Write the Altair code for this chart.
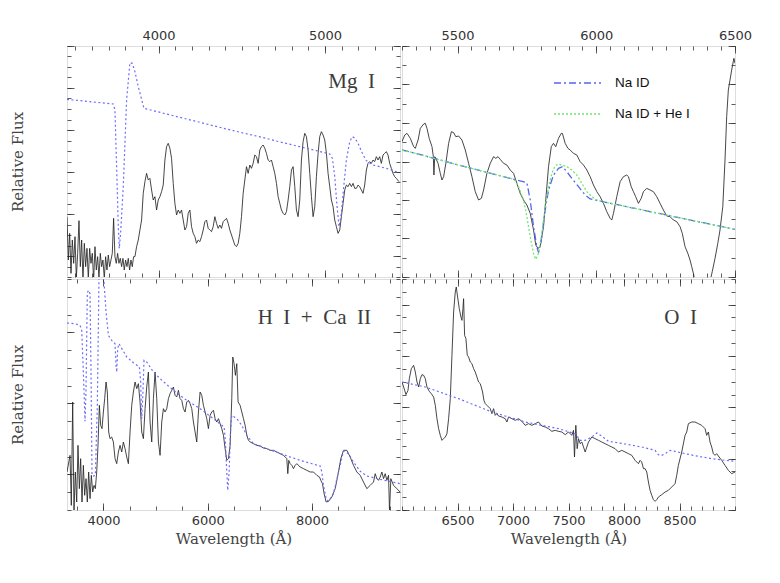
import altair as alt
import pandas as pd

# ---------------- data (wavelength in Angstrom, relative flux, arbitrary units) ----------------
TL_SPECTRUM = [
    (3450, 1.81), (3458, 0.51), (3466, 1.31), (3474, 0.11), (3482, 1.11), (3490, 0.41), (3498, 1.21),
    (3506, -0.05), (3514, 0.71), (3522, 1.69), (3530, 0.31), (3538, 1.11), (3546, -0.09), (3554, 1.01),
    (3562, 0.31), (3570, 0.86), (3578, -0.05), (3586, 0.86), (3594, 0.41), (3602, 0.71), (3610, -0.09),
    (3618, 0.91), (3626, 0.21), (3634, 0.61), (3642, -0.02), (3650, 0.71), (3658, 0.31), (3666, 0.51),
    (3674, -0.04), (3682, 0.61), (3690, 0.21), (3698, 0.66), (3706, 0.31), (3714, 0.51), (3722, 0.71),
    (3730, 1.76), (3738, 0.61), (3746, 0.41), (3754, 0.71), (3762, 0.41), (3770, 0.56), (3778, 0.31),
    (3786, 0.56), (3794, 0.21), (3802, 0.51), (3810, 0.31), (3818, 0.56), (3826, 0.21), (3834, 0.51),
    (3842, 0.31), (3850, 0.61), (3858, 0.61), (3868, 0.91), (3878, 1.11), (3888, 1.41), (3898, 1.71),
    (3908, 2.51), (3918, 2.86), (3928, 3.11), (3938, 2.91), (3948, 2.96), (3958, 2.61), (3968, 2.31),
    (3978, 2.41), (3988, 2.01), (3998, 2.31), (4008, 2.41), (4018, 2.56), (4028, 2.76), (4038, 3.51),
    (4048, 3.91), (4058, 4.01), (4068, 3.86), (4078, 3.56), (4088, 2.81), (4098, 2.21), (4108, 1.86),
    (4118, 2.01), (4128, 1.91), (4138, 2.01), (4148, 1.71), (4158, 1.41), (4168, 1.51), (4178, 1.91),
    (4188, 2.01), (4198, 1.51), (4208, 1.31), (4218, 1.21), (4228, 1.01), (4238, 1.11), (4248, 1.06),
    (4258, 1.21), (4268, 1.41), (4278, 1.66), (4288, 1.71), (4298, 1.46), (4308, 1.41), (4318, 1.36),
    (4328, 1.51), (4338, 1.81), (4348, 1.61), (4358, 1.46), (4368, 1.56), (4378, 1.46), (4388, 1.66),
    (4398, 1.71), (4408, 1.76), (4418, 1.61), (4428, 1.41), (4438, 1.26), (4448, 1.11), (4458, 0.96),
    (4468, 0.91), (4478, 1.01), (4488, 1.31), (4498, 1.81), (4508, 2.51), (4518, 2.91), (4528, 3.31),
    (4538, 3.11), (4548, 3.36), (4558, 3.26), (4568, 3.41), (4578, 3.66), (4588, 3.61), (4598, 3.41),
    (4608, 3.81), (4618, 3.91), (4628, 3.96), (4638, 3.86), (4648, 3.71), (4658, 3.51), (4668, 3.46),
    (4678, 3.51), (4688, 3.31), (4698, 3.11), (4708, 2.81), (4718, 2.41), (4728, 2.21), (4738, 2.01),
    (4748, 1.91), (4758, 1.86), (4768, 1.96), (4778, 2.31), (4788, 2.71), (4798, 3.21), (4808, 3.31),
    (4818, 2.71), (4828, 2.01), (4838, 1.81), (4848, 2.31), (4858, 3.51), (4868, 4.06), (4878, 4.31),
    (4888, 4.21), (4898, 3.81), (4908, 3.11), (4918, 2.41), (4928, 1.81), (4938, 2.11), (4948, 3.01),
    (4958, 3.71), (4968, 4.21), (4978, 4.36), (4988, 4.26), (4998, 4.11), (5008, 3.71), (5018, 3.11),
    (5028, 2.71), (5038, 2.31), (5048, 2.11), (5058, 1.71), (5068, 1.51), (5078, 1.31), (5088, 1.41),
    (5098, 1.81), (5108, 2.21), (5118, 2.61), (5128, 2.76), (5138, 2.71), (5148, 2.81), (5158, 2.71),
    (5168, 2.81), (5178, 2.66), (5188, 2.66), (5198, 2.76), (5208, 2.71), (5218, 2.61), (5228, 2.51),
    (5238, 2.76), (5248, 3.21), (5258, 3.41), (5268, 3.46), (5278, 3.41), (5288, 3.51), (5298, 3.46),
    (5308, 3.61), (5318, 3.51), (5328, 3.61), (5338, 3.41), (5348, 3.66), (5358, 3.71), (5368, 3.76),
    (5378, 3.66), (5388, 3.41), (5398, 3.26), (5408, 3.11), (5418, 3.01), (5428, 2.96), (5444, 2.86),
]
TL_MODEL = [
    (3450, 5.33), (3728, 5.19), (3738, 5.01), (3748, 3.31), (3758, 1.51), (3764, 0.86), (3772, 1.31),
    (3788, 2.71), (3808, 5.31), (3828, 6.43), (3842, 6.41), (3858, 6.16), (3878, 5.71), (3912, 5.06),
    (4048, 4.89), (4248, 4.64), (4448, 4.39), (4588, 4.23), (4748, 4.03), (4848, 3.91), (4948, 3.79),
    (5028, 3.69), (5044, 3.56), (5058, 3.01), (5072, 2.11), (5084, 1.51), (5098, 1.91), (5112, 2.71),
    (5128, 3.51), (5148, 4.06), (5164, 4.21), (5180, 4.16), (5198, 4.01), (5224, 3.71), (5248, 3.49),
    (5288, 3.36), (5368, 3.26), (5444, 3.13),
]

TR_SPECTRUM = [
    (5300, 4.06), (5310, 4.26), (5318, 4.31), (5330, 4.16), (5342, 3.91), (5348, 3.86), (5358, 4.11),
    (5366, 4.46), (5378, 4.59), (5384, 4.61), (5390, 4.46), (5398, 4.16), (5408, 3.91), (5413, 3.61),
    (5415, 3.06), (5418, 3.61), (5422, 3.56), (5430, 3.41), (5438, 3.11), (5444, 2.91), (5450, 3.01),
    (5458, 3.41), (5468, 4.01), (5478, 4.36), (5486, 4.33), (5494, 4.21), (5504, 4.23), (5516, 4.11),
    (5528, 3.81), (5540, 3.41), (5552, 3.01), (5564, 2.56), (5576, 2.31), (5586, 2.36), (5594, 2.61),
    (5606, 3.11), (5618, 3.41), (5630, 3.61), (5638, 3.56), (5646, 3.61), (5654, 3.53), (5666, 3.41),
    (5678, 3.36), (5690, 3.21), (5702, 3.11), (5714, 2.81), (5726, 2.51), (5738, 2.31), (5750, 2.16),
    (5762, 1.91), (5774, 1.41), (5782, 0.96), (5790, 0.86), (5798, 0.91), (5810, 1.51), (5818, 2.31),
    (5828, 3.31), (5838, 3.91), (5846, 4.01), (5854, 3.91), (5864, 4.16), (5874, 4.31), (5878, 4.31),
    (5888, 4.01), (5898, 3.86), (5906, 3.81), (5918, 3.71), (5930, 3.66), (5942, 3.46), (5954, 3.36),
    (5966, 3.21), (5978, 3.01), (5990, 2.76), (6002, 2.56), (6014, 2.41), (6026, 2.21), (6038, 1.96),
    (6050, 1.76), (6056, 1.71), (6062, 1.91), (6074, 2.41), (6086, 2.86), (6098, 3.01), (6110, 3.06),
    (6116, 3.01), (6126, 2.71), (6134, 2.56), (6142, 2.41), (6152, 2.21), (6162, 2.36), (6170, 2.56),
    (6182, 2.66), (6194, 2.61), (6206, 2.56), (6218, 2.41), (6230, 2.21), (6242, 2.01), (6254, 1.83),
    (6266, 1.81), (6278, 1.71), (6290, 1.66), (6302, 1.51), (6310, 1.31), (6320, 0.91), (6330, 0.71),
    (6338, 0.51), (6344, 0.31), (6350, 0.11), (6356, -0.14), (6386, -0.69), (6410, -0.14), (6418, 0.16),
    (6428, 0.56), (6438, 1.01), (6446, 1.41), (6456, 2.11), (6464, 3.51), (6470, 4.81), (6476, 5.61),
    (6488, 6.21), (6496, 6.56), (6500, 6.41),
]
TR_NA_ID = [
    (5300, 3.81), (5384, 3.63), (5504, 3.36), (5624, 3.10), (5750, 2.83), (5762, 2.31), (5774, 1.51),
    (5786, 0.91), (5792, 0.73), (5802, 1.11), (5814, 1.91), (5828, 2.61), (5846, 3.06), (5864, 3.26),
    (5878, 3.31), (5894, 3.16), (5912, 2.96), (5936, 2.71), (5960, 2.46), (5978, 2.34), (6104, 2.12),
    (6224, 1.91), (6344, 1.70), (6500, 1.43),
]
TR_NA_HE = [
    (5300, 3.81), (5384, 3.63), (5504, 3.36), (5624, 3.10), (5696, 2.95), (5708, 2.89), (5720, 2.71),
    (5738, 2.31), (5750, 1.81), (5762, 1.21), (5774, 0.71), (5782, 0.53), (5792, 0.71), (5804, 1.31),
    (5816, 2.11), (5828, 2.71), (5840, 3.11), (5852, 3.34), (5864, 3.39), (5876, 3.36), (5894, 3.31),
    (5912, 3.21), (5930, 3.06), (5948, 2.81), (5966, 2.56), (5984, 2.41), (6002, 2.31), (6020, 2.26),
    (6104, 2.12), (6224, 1.91), (6344, 1.70), (6500, 1.43),
]

BL_SPECTRUM = [
    (3300, 1.14), (3358, 1.64), (3383, 0.14), (3409, 3.24), (3434, -0.05), (3460, 1.14), (3486, 0.24),
    (3511, 1.94), (3537, 0.64), (3562, 1.54), (3588, 0.24), (3614, 1.34), (3639, 0.44), (3665, 0.94),
    (3690, 0.24), (3716, 1.14), (3742, 0.34), (3767, 1.04), (3793, 0.54), (3818, 0.74), (3844, 0.64),
    (3870, 1.14), (3895, 1.94), (3921, 3.14), (3946, 2.54), (3972, 2.44), (3998, 2.94), (4023, 3.34),
    (4049, 3.84), (4074, 3.54), (4100, 2.34), (4126, 2.14), (4158, 2.19), (4190, 2.04), (4222, 1.54),
    (4254, 1.39), (4286, 1.74), (4318, 1.94), (4350, 1.74), (4382, 2.04), (4414, 1.84), (4446, 1.59),
    (4478, 1.39), (4510, 2.34), (4542, 3.14), (4574, 3.54), (4606, 3.84), (4638, 3.64), (4670, 3.79),
    (4702, 3.24), (4734, 2.34), (4766, 2.14), (4798, 3.04), (4830, 3.69), (4862, 4.14), (4894, 2.64),
    (4926, 2.04), (4958, 3.34), (4990, 4.14), (5022, 3.34), (5054, 2.04), (5086, 1.64), (5118, 2.64),
    (5150, 3.04), (5182, 2.94), (5214, 3.04), (5246, 3.34), (5278, 3.49), (5310, 3.59), (5342, 3.69),
    (5374, 3.44), (5406, 3.39), (5438, 3.59), (5470, 3.34), (5502, 3.29), (5534, 3.04), (5566, 2.94),
    (5598, 3.24), (5630, 3.29), (5662, 3.19), (5694, 3.04), (5726, 2.64), (5758, 2.34), (5790, 2.04),
    (5822, 2.94), (5854, 3.54), (5886, 3.44), (5918, 3.14), (5950, 2.94), (5982, 2.74), (6014, 2.44),
    (6046, 2.84), (6078, 2.94), (6110, 2.99), (6142, 2.74), (6174, 2.64), (6206, 2.74), (6238, 2.59),
    (6270, 2.44), (6302, 2.24), (6334, 1.84), (6366, 1.49), (6398, 1.54), (6430, 1.94), (6462, 3.34),
    (6481, 4.59), (6506, 4.39), (6532, 4.04), (6558, 4.39), (6583, 3.24), (6622, 3.14), (6654, 2.94),
    (6686, 2.74), (6718, 2.54), (6750, 2.24), (6782, 2.09), (6814, 2.04), (6878, 1.99), (6942, 1.94),
    (7006, 1.92), (7070, 1.86), (7134, 1.84), (7198, 1.79), (7262, 1.79), (7326, 1.74), (7390, 1.69),
    (7454, 1.64), (7518, 1.54), (7537, 1.09), (7556, 1.49), (7582, 1.39), (7614, 1.34), (7646, 1.24),
    (7678, 1.34), (7710, 1.39), (7774, 1.29), (7838, 1.24), (7902, 1.19), (7966, 1.14), (8030, 1.14),
    (8094, 1.04), (8145, 0.99), (8170, 0.89), (8202, 0.79), (8234, 0.49), (8273, 0.24), (8318, 0.26),
    (8382, 0.39), (8446, 0.64), (8510, 1.14), (8554, 1.54), (8606, 1.79), (8670, 1.79), (8734, 1.59),
    (8798, 1.34), (8862, 1.14), (8926, 1.04), (8990, 0.84), (9054, 0.64), (9118, 0.74), (9182, 0.84),
    (9214, 1.09), (9246, 0.94), (9278, 0.89), (9310, 0.99), (9342, 1.14), (9374, 0.94), (9406, 1.09),
    (9438, 0.89), (9470, 1.04), (9489, -0.05), (9514, 0.94), (9566, 0.74), (9630, 0.64), (9690, 0.54),
]
BL_MODEL = [
    (3300, 5.61), (3454, 5.59), (3550, 5.54), (3582, 5.39), (3614, 4.14), (3646, 2.66), (3665, 3.64),
    (3690, 6.52), (3716, 6.59), (3742, 6.49), (3761, 4.14), (3780, 1.04), (3806, 1.02), (3844, 1.04),
    (3882, 3.14), (3914, 6.99), (3966, 7.20), (4010, 6.84), (4049, 5.94), (4094, 5.24), (4158, 5.09),
    (4222, 4.99), (4241, 4.34), (4254, 4.14), (4273, 4.84), (4298, 4.99), (4446, 4.59), (4574, 4.42),
    (4689, 4.29), (4714, 3.84), (4734, 2.74), (4753, 3.34), (4778, 4.49), (4830, 4.44), (4958, 4.14),
    (5086, 3.94), (5342, 3.59), (5598, 3.29), (5854, 3.04), (6110, 2.74), (6315, 2.49), (6340, 2.04),
    (6366, 1.14), (6385, 0.59), (6411, 1.14), (6436, 2.34), (6462, 2.84), (6558, 2.74), (6654, 2.54),
    (6750, 2.24), (6878, 1.99), (7134, 1.84), (7454, 1.66), (7774, 1.49), (8158, 1.32), (8190, 1.14),
    (8222, 0.74), (8273, 0.34), (8318, 0.26), (8414, 0.49), (8510, 1.14), (8606, 1.77), (8702, 1.69),
    (8798, 1.44), (8926, 1.16), (9054, 1.02), (9310, 0.92), (9690, 0.79),
]

BR_SPECTRUM = [
    (6000, 3.84), (6015, 3.69), (6036, 3.46), (6054, 3.59), (6066, 3.94), (6084, 4.24), (6105, 4.34),
    (6120, 4.14), (6135, 3.84), (6150, 3.69), (6165, 3.94), (6180, 4.06), (6195, 4.04), (6210, 3.94),
    (6225, 3.69), (6246, 3.56), (6264, 3.49), (6285, 3.39), (6300, 3.14), (6315, 2.74), (6330, 2.44),
    (6345, 2.24), (6360, 2.09), (6375, 2.14), (6390, 2.19), (6405, 2.29), (6420, 2.74), (6435, 3.34),
    (6450, 4.64), (6465, 5.94), (6480, 6.54), (6489, 6.69), (6501, 6.39), (6516, 6.04), (6531, 5.79),
    (6540, 5.69), (6549, 6.04), (6555, 6.34), (6564, 5.24), (6576, 5.14), (6588, 4.64), (6600, 4.59),
    (6615, 4.44), (6630, 4.39), (6645, 4.24), (6660, 4.14), (6675, 3.99), (6690, 3.84), (6705, 3.79),
    (6714, 3.69), (6726, 3.54), (6738, 3.29), (6750, 3.19), (6765, 3.14), (6780, 3.09), (6795, 3.04),
    (6810, 2.89), (6825, 3.04), (6840, 2.84), (6855, 2.89), (6870, 2.82), (6900, 2.79), (6930, 2.74),
    (6945, 2.64), (6960, 2.79), (6990, 2.74), (7020, 2.69), (7050, 2.74), (7080, 2.66), (7110, 2.54),
    (7140, 2.59), (7170, 2.54), (7200, 2.59), (7230, 2.64), (7260, 2.52), (7290, 2.49), (7320, 2.44),
    (7350, 2.36), (7380, 2.39), (7410, 2.36), (7440, 2.34), (7470, 2.26), (7500, 2.34), (7530, 2.24),
    (7545, 2.39), (7554, 1.59), (7566, 2.54), (7578, 1.84), (7590, 2.14), (7605, 1.99), (7620, 2.04),
    (7635, 1.89), (7650, 1.74), (7665, 1.89), (7680, 2.04), (7710, 2.19), (7740, 2.14), (7770, 2.09),
    (7800, 2.04), (7830, 1.99), (7860, 1.94), (7890, 1.89), (7920, 1.84), (7950, 1.74), (7980, 1.79),
    (8010, 1.74), (8040, 1.69), (8070, 1.64), (8100, 1.49), (8130, 1.39), (8145, 1.49), (8160, 1.44),
    (8175, 1.24), (8190, 1.24), (8205, 1.14), (8220, 0.84), (8235, 0.59), (8250, 0.44), (8265, 0.31),
    (8280, 0.26), (8295, 0.31), (8310, 0.39), (8340, 0.46), (8370, 0.54), (8400, 0.59), (8430, 0.69),
    (8460, 0.79), (8475, 1.04), (8490, 1.34), (8520, 1.74), (8550, 2.24), (8565, 2.34), (8580, 2.59),
    (8610, 2.64), (8640, 2.64), (8670, 2.59), (8700, 2.54), (8730, 2.44), (8745, 2.24), (8760, 2.34),
    (8775, 2.04), (8790, 1.89), (8805, 1.69), (8820, 1.64), (8835, 1.69), (8850, 1.62), (8880, 1.49),
    (8910, 1.34), (8940, 1.19), (8970, 1.09), (9000, 1.14),
]
BR_MODEL = [
    (6000, 3.84), (6210, 3.69), (6510, 3.34), (6810, 2.94), (7110, 2.64), (7410, 2.44), (7560, 2.29),
    (7605, 2.09), (7650, 2.09), (7710, 2.19), (7755, 2.31), (7800, 2.22), (7860, 2.06), (8010, 1.98),
    (8160, 1.89), (8280, 1.79), (8310, 1.66), (8340, 1.64), (8370, 1.69), (8415, 1.79), (8460, 1.76),
    (8550, 1.69), (8670, 1.61), (8790, 1.54), (8910, 1.49), (9000, 1.46),
]

# ---------------- axes: ranges and tick values ----------------
TL_XDOM, TL_XMAJ, TL_XMIN = [3450, 5450], [4000, 5000], list(range(3500, 5401, 100))
TR_XDOM, TR_XMAJ, TR_XMIN = [5300, 6500], [5500, 6000, 6500], list(range(5300, 6501, 50))
BL_XDOM, BL_XMAJ, BL_XMIN = [3300, 9690], [4000, 6000, 8000], list(range(3500, 9501, 500))
BR_XDOM, BR_XMAJ, BR_XMIN = [6000, 9000], [6500, 7000, 7500, 8000, 8500], list(range(6000, 9001, 100))
FLUX_DOM = [0, 6.93]
SP = "\u00a0\u00a0"
PANEL_LABELS = ["Mg" + SP + "I", "H" + SP + "I" + SP + "+" + SP + "Ca" + SP + "II", "O" + SP + "I"]
MODEL_NAMES = ["Na ID", "Na ID + He I"]


def yticks(step, n, start, every):
    minor = [round(k * step, 4) for k in range(n + 1)]
    major = [round(k * step, 4) for k in range(start, n + 1, every)]
    return major, minor


TL_Y = yticks(0.315, 22, 2, 4)
TR_Y = yticks(0.5775, 12, 0, 2)
BL_Y = yticks(0.533, 13, 2, 4)
BR_Y = yticks(0.385, 18, 0, 4)

INK = "#333333"
BASE_AX = dict(domain=False, grid=False, tickColor=INK, tickWidth=0.8, minExtent=0,
               labelFlush=False, labelFont="DejaVu Sans", labelFontSize=13, labelColor=INK,
               titleFont="DejaVu Serif", titleFontSize=15, titleFontWeight="normal",
               titleColor="#444444")
MAJ, MIN = 7, 4


def axis(orient, values, size, labels=False, title=None):
    kw = dict(BASE_AX)
    kw.update(orient=orient, values=values, tickSize=size, offset=-size, labels=labels, title=title)
    if labels:
        kw.update(format="d", labelPadding=4)
    if title is not None:
        kw["titlePadding"] = 41 if orient == "left" else 4
    return alt.Axis(**kw)


def frame(df):
    return pd.DataFrame(df, columns=["wl", "flux"])


def panel(spec, model_chart_fn, xdom, xmaj, xmin, ytk, top, left, label, lx, ly):
    xs = alt.Scale(domain=xdom, nice=False, zero=False)
    ys = alt.Scale(domain=FLUX_DOM, nice=False, zero=False)
    ymaj, ymin = ytk

    def X(ax):
        return alt.X("wl:Q", scale=xs, axis=ax)

    def Y(ax):
        return alt.Y("flux:Q", scale=ys, axis=ax)

    sdf = frame(spec)
    line = alt.Chart(sdf).mark_line(clip=True, color="#262626", strokeWidth=0.85).encode(
        x=X(axis("bottom", xmaj, MAJ, labels=not top, title=None if top else "Wavelength (Å)")),
        y=Y(axis("left", ymaj, MAJ, title="Relative Flux" if left else None)),
    )
    inv1 = alt.Chart(sdf).mark_line(clip=True, strokeOpacity=0).encode(
        x=X(axis("bottom", xmin, MIN)), y=Y(axis("left", ymin, MIN)))
    inv2 = alt.Chart(sdf).mark_line(clip=True, strokeOpacity=0).encode(
        x=X(axis("top", xmin, MIN)), y=Y(axis("right", ymin, MIN)))
    model = model_chart_fn(X(axis("top", xmaj, MAJ, labels=top)), Y(axis("right", ymaj, MAJ)))
    layers = [line, inv1, inv2, model]
    if label:
        txt = alt.Chart(pd.DataFrame({"label": [label]})).mark_text(
            font="Liberation Serif", fontSize=21, color="#3c3c3c", align="right", baseline="middle"
        ).encode(text="label:N", x=alt.value(lx), y=alt.value(ly))
        layers.append(txt)
    return alt.layer(*layers).resolve_scale(x="shared", y="shared").resolve_axis(
        x="independent", y="independent").properties(width=333, height=231)


def dotted_model(data):
    def fn(x, y):
        return alt.Chart(frame(data)).mark_line(
            clip=True, color="#6b6bff", strokeWidth=1.2, strokeDash=[2, 2.5]).encode(x=x, y=y)
    return fn


def na_models(x, y):
    mdf = pd.concat([frame(TR_NA_ID).assign(model=MODEL_NAMES[0]),
                     frame(TR_NA_HE).assign(model=MODEL_NAMES[1])], ignore_index=True)
    leg = alt.Legend(title=None, orient="none", legendX=333 + 153, legendY=12.5, symbolType="stroke",
                     symbolSize=2209, symbolStrokeWidth=1.3, labelFont="Liberation Sans",
                     labelFontSize=13.5, labelColor="#111111", labelOffset=13, rowPadding=-15,
                     padding=0)
    return alt.Chart(mdf).mark_line(clip=True, strokeWidth=1.3).encode(
        x=x, y=y,
        color=alt.Color("model:N", scale=alt.Scale(domain=MODEL_NAMES, range=["#5566ee", "#6fe86f"]),
                        legend=leg),
        strokeDash=alt.StrokeDash("model:N", scale=alt.Scale(domain=MODEL_NAMES,
                                                             range=[[7, 3, 2, 3], [2, 2]]),
                                  legend=leg),
    )


tl = panel(TL_SPECTRUM, dotted_model(TL_MODEL), TL_XDOM, TL_XMAJ, TL_XMIN, TL_Y, True, True,
           PANEL_LABELS[0], 308, 36)
tr = panel(TR_SPECTRUM, na_models, TR_XDOM, TR_XMAJ, TR_XMIN, TR_Y, True, False, None, 0, 0)
bl = panel(BL_SPECTRUM, dotted_model(BL_MODEL), BL_XDOM, BL_XMAJ, BL_XMIN, BL_Y, False, True,
           PANEL_LABELS[1], 304, 39)
br = panel(BR_SPECTRUM, dotted_model(BR_MODEL), BR_XDOM, BR_XMAJ, BR_XMIN, BR_Y, False, False,
           PANEL_LABELS[2], 295, 39)

chart = alt.vconcat(
    alt.hconcat(tl, tr, spacing=0),
    alt.hconcat(bl, br, spacing=0),
    spacing=0,
).properties(
    padding={"left": 2, "top": 20, "right": 5, "bottom": 5}
).configure_view(stroke="#111111", strokeWidth=1).configure(background="white")

chart.save("out.html", embed_options={"renderer": "svg", "actions": False})
